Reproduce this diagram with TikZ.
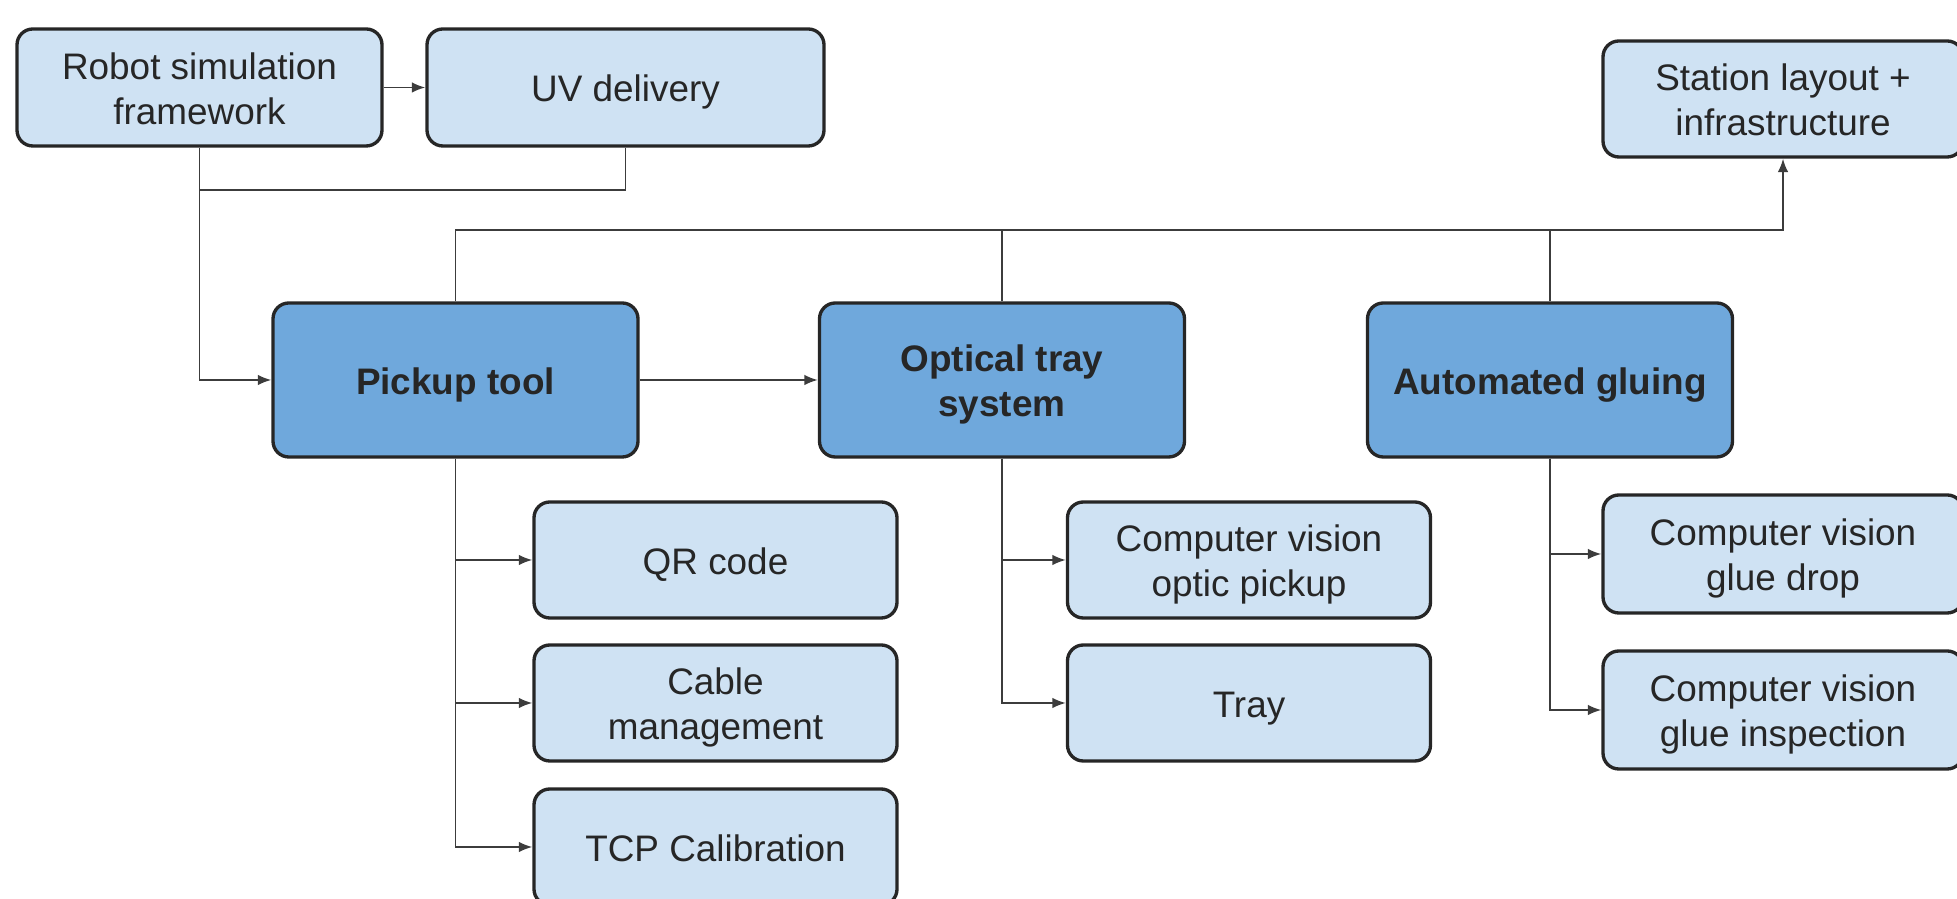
\documentclass[tikz,border=0pt]{standalone}
\usepackage{fontspec}
\setmainfont{Liberation Sans}
\usepackage{xcolor}
\usepackage{tikz}
\usetikzlibrary{arrows.meta}

\definecolor{lightbox}{HTML}{CFE2F3}
\definecolor{darkbox}{HTML}{6FA8DC}
\definecolor{boxline}{HTML}{262626}
\definecolor{wire}{HTML}{3C3C3C}
% fixed line box, so every line sits the same in its box
\newcommand{\ls}{\rule[-2.3pt]{0pt}{12.8pt}}

\begin{document}
\begin{tikzpicture}[font=\fontsize{10.5}{12.8}\selectfont]
	 \tikzstyle{task}=[rectangle,rounded corners=4.5pt,draw=boxline,line width=0.95pt,fill=lightbox,
	   minimum width=3.63cm,minimum height=1.16cm,align=center,text=black!85,inner sep=2pt]
	 \tikzstyle{group}=[task,fill=darkbox,minimum width=3.65cm,minimum height=1.54cm,font=\fontsize{10.5}{12.8}\selectfont\bfseries]
	 \tikzstyle{edge} = [draw,line width=0.55pt,wire]
	 \tikzstyle{arr} = [edge,-{Latex[length=3.8pt,width=3pt]}]
	 \useasboundingbox (0,0) rectangle (19.57,-8.99);
	 \node[task,minimum width=3.65cm,minimum height=1.17cm] (sim) at (1.995,-0.875) {\ls Robot simulation\\\ls framework};
	 \node[task,minimum width=3.97cm,minimum height=1.17cm] (uv) at (6.255,-0.875) {\ls UV delivery};
	 \node[task,minimum width=3.60cm] (station) at (17.83,-0.99) {\ls Station layout +\\\ls infrastructure};
	 \node[group] (pick) at (4.555,-3.80) {\ls Pickup tool};
	 \node[group] (tray) at (10.02,-3.80) {\ls Optical tray\\\ls system};
	 \node[group] (glue) at (15.50,-3.80) {\ls Automated gluing};
	 \node[task] (qr) at (7.155,-5.60) {\ls QR code};
	 \node[task] (cable) at (7.155,-7.03) {\ls Cable\\\ls management};
	 \node[task] (tcp) at (7.155,-8.47) {\ls TCP Calibration};
	 \node[task] (cvpick) at (12.49,-5.60) {\ls Computer vision\\\ls optic pickup};
	 \node[task] (traybox) at (12.49,-7.03) {\ls Tray};
	 \node[task,minimum width=3.60cm,minimum height=1.18cm] (cvdrop) at (17.83,-5.54) {\ls Computer vision\\\ls glue drop};
	 \node[task,minimum width=3.60cm,minimum height=1.18cm] (cvinsp) at (17.83,-7.10) {\ls Computer vision\\\ls glue inspection};
	 \coordinate (join) at (1.995,-1.90);
	 \coordinate (bus) at (4.555,-2.30);
	 % top part
	 \draw[arr] (sim) -- (uv);
	 \draw[edge] (uv.south) |- (join);
	 \draw[arr] (sim.south) |- (pick.west);
	 \draw[arr] (pick) -- (tray);
	 \draw[arr] (pick.north) -- (bus) -| (station.south);
	 \draw[edge] (tray.north) -- (tray.north |- bus);
	 \draw[edge] (glue.north) -- (glue.north |- bus);
	 % sub tasks
	 \draw[arr] (pick.south) |- (qr.west);
	 \draw[arr] (pick.south) |- (cable.west);
	 \draw[arr] (pick.south) |- (tcp.west);
	 \draw[arr] (tray.south) |- (cvpick.west);
	 \draw[arr] (tray.south) |- (traybox.west);
	 \draw[arr] (glue.south) |- (cvdrop.west);
	 \draw[arr] (glue.south) |- (cvinsp.west);
\end{tikzpicture}
\end{document}
